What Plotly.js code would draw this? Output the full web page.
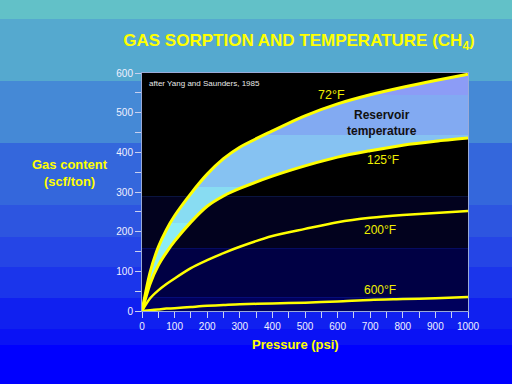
<!DOCTYPE html>
<html><head><meta charset="utf-8">
<script src="https://cdn.plot.ly/plotly-3.0.1.min.js"></script>
<style>
html,body{margin:0;padding:0;}
#chart{width:512px;height:384px;background:linear-gradient(to bottom,
 #62C1C8 0px,#62C1C8 19px,#55A9CF 19px,#55A9CF 81px,#4589D6 81px,#4589D6 143px,
 #3467DC 143px,#3467DC 205px,#2D55E0 205px,#2D55E0 237px,#2545E6 237px,#2545E6 267px,
 #1B35EB 267px,#1B35EB 298px,#1020F0 298px,#1020F0 329px,#0A12F5 329px,#0A12F5 345px,
 #0000FF 345px,#0000FF 384px);}
</style>
</head><body>
<div id="chart"></div>
<script>
var pressure = [0, 25, 50, 75, 100, 150, 200, 250, 300, 400, 500, 600, 700, 800, 900, 1000];
var gas72F  = [0, 98, 161, 205, 240, 296, 345, 384, 413, 454, 492, 522, 545, 564, 581, 597];
var gas125F = [0, 69, 115, 148, 176, 224, 264, 290, 309, 340, 366, 388, 404, 418, 428, 436];
var gas200F = [0, 32, 52, 68, 82, 108, 128, 146, 162, 189, 207, 224, 235, 242, 247, 252];
var gas600F = [0, 2, 4, 6, 7, 10, 13, 15, 17, 19, 21, 24, 28, 30, 32, 35];
var curveLabels = ["72°F", "125°F", "200°F", "600°F"];
var bandLabel = "Reservoir<br>temperature";
var sourceNote = "after Yang and Saunders, 1985";
var chartTitle = "GAS SORPTION AND TEMPERATURE (CH<sub>4</sub>)";
var xTitle = "Pressure (psi)";
var yTitle = "Gas content<br>(scf/ton)";

var YEL = '#FFFF00';
var fillScale = [
  [0, '#8CECF5'], [221/600, '#8CECF5'],
  [221/600, '#88DCF2'], [312/600, '#88DCF2'],
  [312/600, '#86C2F2'], [443/600, '#86C2F2'],
  [443/600, '#82AAF2'], [544/600, '#82AAF2'],
  [544/600, '#8C9CF6'], [1, '#8C9CF6']
];

var traces = [
  {x: pressure, y: gas125F, mode: 'lines', line: {color: YEL, width: 3, shape: 'spline', smoothing: 0.8}, hoverinfo: 'skip'},
  {x: pressure, y: gas72F, mode: 'lines', line: {color: YEL, width: 3, shape: 'spline', smoothing: 0.8},
   fill: 'tonexty', fillcolor: '#86C2F2',
   fillgradient: {type: 'vertical', start: 0, stop: 600, colorscale: fillScale}, hoverinfo: 'skip'},
  {x: pressure, y: gas200F, mode: 'lines', line: {color: YEL, width: 2.5, shape: 'spline', smoothing: 0.8}, hoverinfo: 'skip'},
  {x: pressure, y: gas600F, mode: 'lines', line: {color: YEL, width: 2.5, shape: 'spline', smoothing: 0.8}, hoverinfo: 'skip'}
];

var axisCommon = {
  showgrid: false, zeroline: false, showline: true, linecolor: '#9AAAD8', linewidth: 1, mirror: true,
  ticks: 'outside', ticklen: 6, tickcolor: '#C8D0F0', tickwidth: 1,
  tickfont: {family: 'Liberation Sans, Arial, sans-serif', size: 10, color: '#F0F0FF'},
  minor: {dtick: 50, ticks: 'outside', ticklen: 6, tickcolor: '#C8D0F0', showgrid: false}
};

var layout = {
  width: 512, height: 384,
  margin: {l: 142, r: 44, t: 73, b: 73},
  paper_bgcolor: 'rgba(0,0,0,0)', plot_bgcolor: 'rgba(0,0,0,0)',
  showlegend: false,
  font: {family: 'Liberation Sans, Arial, sans-serif'},
  title: {text: chartTitle, x: 299/512, xref: 'container', xanchor: 'center',
          y: 1 - 40/384, yref: 'container', yanchor: 'middle',
          font: {size: 17, color: YEL, weight: 'bold'}},
  xaxis: Object.assign({}, axisCommon, {range: [0, 1000], dtick: 100, tick0: 0}),
  yaxis: Object.assign({}, axisCommon, {range: [0, 600], dtick: 100, tick0: 0}),
  shapes: [
    {type: 'rect', xref: 'x', yref: 'y', x0: 0, x1: 1000, y0: 289, y1: 600, fillcolor: '#000000', line: {width: 0}, layer: 'below'},
    {type: 'rect', xref: 'x', yref: 'y', x0: 0, x1: 1000, y0: 158, y1: 289, fillcolor: '#02021E', line: {width: 0}, layer: 'below'},
    {type: 'rect', xref: 'x', yref: 'y', x0: 0, x1: 1000, y0: 34, y1: 158, fillcolor: '#000044', line: {width: 0}, layer: 'below'},
    {type: 'rect', xref: 'x', yref: 'y', x0: 0, x1: 1000, y0: 0, y1: 34, fillcolor: '#00005C', line: {width: 0}, layer: 'below'}
  ],
  annotations: [
    {text: sourceNote, x: 15, y: 573, xref: 'x', yref: 'y', xanchor: 'left', yanchor: 'middle', showarrow: false,
     font: {size: 8, color: '#E8E8E8'}},
    {text: curveLabels[0], x: 580, y: 545, xref: 'x', yref: 'y', showarrow: false, font: {size: 12.5, color: '#F0F000'}},
    {text: bandLabel, x: 736, y: 474, xref: 'x', yref: 'y', showarrow: false, font: {size: 12, color: '#111111', weight: 'bold'}},
    {text: curveLabels[1], x: 739, y: 381, xref: 'x', yref: 'y', showarrow: false, font: {size: 12, color: '#F0F000'}},
    {text: curveLabels[2], x: 731, y: 203, xref: 'x', yref: 'y', showarrow: false, font: {size: 12, color: '#F0F000'}},
    {text: curveLabels[3], x: 729, y: 52, xref: 'x', yref: 'y', showarrow: false, font: {size: 12, color: '#F0F000'}},
    {text: yTitle, x: (70-142)/326, y: (311-173)/238, xref: 'paper', yref: 'paper', xanchor: 'center', yanchor: 'middle',
     showarrow: false, font: {size: 13, color: YEL, weight: 'bold'}},
    {text: xTitle, x: (295.5-142)/326, y: (311-344)/238, xref: 'paper', yref: 'paper', xanchor: 'center', yanchor: 'middle',
     showarrow: false, font: {size: 13, color: YEL, weight: 'bold'}}
  ]
};

Plotly.newPlot('chart', traces, layout, {staticPlot: true, displayModeBar: false});
</script>
</body></html>
